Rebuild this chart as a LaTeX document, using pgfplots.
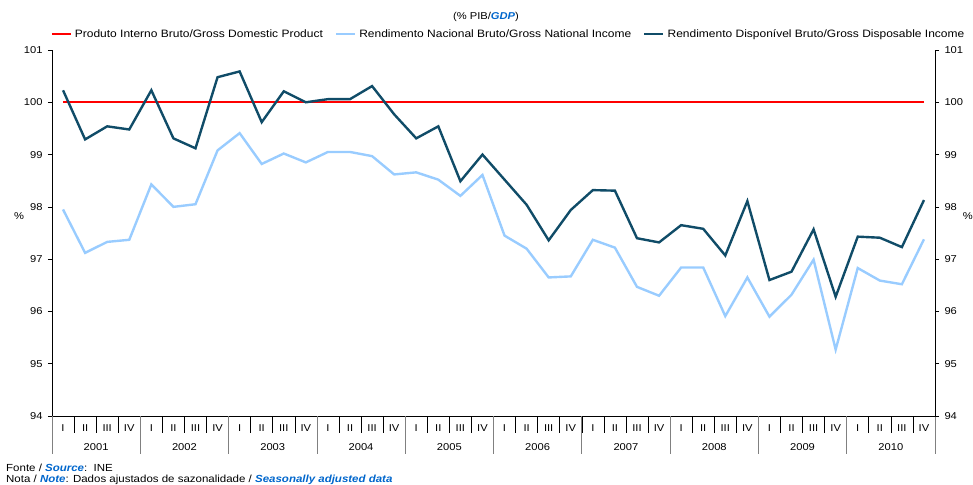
\documentclass[border=0pt]{standalone}
\usepackage{pgfplots}
\usepackage{pgfplotstable}
\pgfplotsset{compat=1.18}
\usepackage{fontspec}
\setmainfont{Liberation Sans}[FakeStretch=1.12]
\definecolor{darkb}{RGB}{16,76,104}
\definecolor{lightb}{RGB}{153,204,255}
\definecolor{txtblue}{RGB}{0,102,204}

\pgfplotstableread{
q gdp gni gdi
1 100 97.95 100.23
2 100 97.12 99.29
3 100 97.33 99.54
4 100 97.37 99.48
5 100 98.43 100.23
6 100 98.00 99.31
7 100 98.05 99.12
8 100 99.08 100.48
9 100 99.41 100.59
10 100 98.82 99.62
11 100 99.02 100.21
12 100 98.85 100.00
13 100 99.05 100.06
14 100 99.05 100.06
15 100 98.97 100.31
16 100 98.62 99.77
17 100 98.66 99.31
18 100 98.52 99.54
19 100 98.21 98.49
20 100 98.61 99.00
21 100 97.45 98.52
22 100 97.20 98.04
23 100 96.65 97.36
24 100 96.67 97.94
25 100 97.37 98.32
26 100 97.22 98.31
27 100 96.47 97.40
28 100 96.30 97.32
29 100 96.84 97.65
30 100 96.84 97.58
31 100 95.91 97.07
32 100 96.65 98.11
33 100 95.90 96.60
34 100 96.32 96.76
35 100 96.99 97.57
36 100 95.27 96.28
37 100 96.83 97.43
38 100 96.59 97.41
39 100 96.52 97.23
40 100 97.38 98.13
}\data

\begin{document}
\begin{tikzpicture}
\useasboundingbox (0,0) rectangle (973bp,485bp);
\pgfplotsset{
  common/.style={
    at={(52bp,69bp)}, anchor=south west,
    width=883bp, height=366bp, scale only axis,
    xmin=0.5, xmax=40.5, ymin=94, ymax=101,
    ytick={94,95,...,101},
    tick align=outside, major tick length=4bp,
    axis line style={-, black, line width=0.8pt},
    ytick style={black, line width=0.6pt},
    /pgf/number format/assume math mode=true,
    ticklabel style={font=\fontsize{10}{12}\selectfont},
    clip=false,
  }
}
\begin{axis}[common,
  axis x line*=bottom, axis y line*=left,
  xtick={0.5,1.5,...,40.5},
  x tick label as interval,
  xtick style={draw=none},
  xticklabels={I,II,III,IV,I,II,III,IV,I,II,III,IV,I,II,III,IV,I,II,III,IV,I,II,III,IV,I,II,III,IV,I,II,III,IV,I,II,III,IV,I,II,III,IV},
  xticklabel style={anchor=center, yshift=-8bp},
  yticklabel style={xshift=-2bp},
  legend columns=3,
  legend style={at={(0.517,1)}, anchor=south, yshift=9bp, draw=none, fill=none,
    font=\fontsize{10.75}{12}\selectfont, inner sep=0pt,
    /tikz/every odd column/.append style={column sep=1bp},
    /tikz/every even column/.append style={column sep=10bp}},
  legend image code/.code={\draw[#1] (0bp,0bp) -- (19bp,0bp);},
]
\addplot[red, line width=2.2pt] table[x=q, y=gdp] {\data};
\addlegendentry{Produto Interno Bruto/Gross Domestic Product}
\addplot[lightb, line width=2.4pt] table[x=q, y=gni] {\data};
\addlegendentry{Rendimento Nacional Bruto/Gross National Income}
\addplot[darkb, line width=2.4pt] table[x=q, y=gdi] {\data};
\addlegendentry{Rendimento Disponível Bruto/Gross Disposable Income}
\pgfplotsinvokeforeach{0,...,40}{\draw[black, line width=0.6pt] (axis cs:{#1+0.5},94) -- ([yshift=-17bp]axis cs:{#1+0.5},94);}
\pgfplotsinvokeforeach{0,...,10}{\draw[gray, line width=0.8pt] (axis cs:{4*#1+0.5},94) -- ([yshift=-38bp]axis cs:{4*#1+0.5},94);}
\pgfplotsinvokeforeach{2001,...,2010}{\node[font=\fontsize{10}{12}\selectfont] at (axis cs:{4*(#1-2001)+2.5},94) [yshift=-31bp] {#1};}
\end{axis}
\begin{axis}[common,
  axis x line=none, axis y line*=right,
  yticklabel pos=right,
  yticklabel style={xshift=2bp},
]
\end{axis}
\node[font=\fontsize{10}{12}\selectfont] at (486bp,468bp) {(\% PIB/\textcolor{txtblue}{\textbf{\textit{GDP}}})};
\node[font=\fontsize{10}{12}\selectfont] at (19bp,269bp) {\%};
\node[font=\fontsize{10}{12}\selectfont, anchor=east, inner sep=0pt] at (973bp,269bp) {\%};
\node[anchor=west, font=\fontsize{10.3}{12}\selectfont, inner sep=0pt] at (6bp,17bp) {Fonte / \textcolor{txtblue}{\textbf{\textit{Source}}}:\ \ INE};
\node[anchor=west, font=\fontsize{10.3}{12}\selectfont, inner sep=0pt] at (6bp,5bp) {Nota / \textcolor{txtblue}{\textbf{\textit{Note}}}: Dados ajustados de sazonalidade / \textcolor{txtblue}{\textbf{\textit{Seasonally adjusted data}}}};
\end{tikzpicture}
\end{document}
